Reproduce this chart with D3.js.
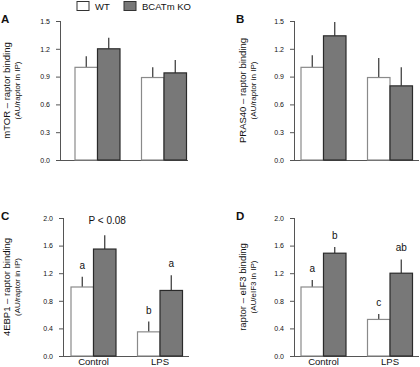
<!DOCTYPE html>
<html>
<head>
<meta charset="utf-8">
<script src="https://cdn.jsdelivr.net/npm/d3@7"></script>
<style>
  body { margin: 0; background: #fff; }
  text { font-family: "Liberation Sans", Arial, sans-serif; fill: #111; }
</style>
</head>
<body>
<div id="chart"></div>
<script>
// groups and series
var groups = ["Control", "LPS"];
var series = ["WT", "BCATm KO"];

// panel A: mTOR - raptor
var mtorMean = [[1.00, 1.20], [0.89, 0.94]];
var mtorErr  = [[0.12, 0.12], [0.11, 0.14]];
// panel B: PRAS40 - raptor
var prasMean = [[1.00, 1.34], [0.89, 0.80]];
var prasErr  = [[0.13, 0.15], [0.21, 0.20]];
// panel C: 4EBP1 - raptor
var ebpMean = [[1.00, 1.55], [0.35, 0.95]];
var ebpErr  = [[0.15, 0.20], [0.15, 0.22]];
var ebpLetters = [["a", "P < 0.08"], ["b", "a"]];
// panel D: raptor - eIF3
var eifMean = [[1.00, 1.49], [0.53, 1.20]];
var eifErr  = [[0.10, 0.09], [0.08, 0.20]];
var eifLetters = [["a", "b"], ["c", "ab"]];

var ticks15 = [0, 0.3, 0.6, 0.9, 1.2, 1.5];
var ticks20 = [0, 0.4, 0.8, 1.2, 1.6, 2.0];

var svg = d3.select("#chart").append("svg")
  .attr("width", 420).attr("height", 367);

var fills = ["#ffffff", "#787878"];
var strokes = ["#8a8a8a", "#2a2a2a"];

// legend
var legend = svg.append("g");
[{x: 77, label: series[0]}, {x: 124, label: series[1]}].forEach(function(d, i) {
  legend.append("rect").attr("x", d.x).attr("y", 1.5).attr("width", 12).attr("height", 9)
    .attr("fill", fills[i]).attr("stroke", "#333").attr("stroke-width", 1);
  legend.append("text").attr("x", d.x + 18).attr("y", 10).attr("font-size", 9.5).text(d.label);
});

function drawPanel(p) {
  var g = svg.append("g");

  var y = d3.scaleLinear().domain([0, p.max]).range([p.bottom, p.top]);

  var step = 66.5, band = 45;
  var x0 = d3.scaleBand().domain(groups)
    .range([p.firstBar - (step - band) / 2, p.firstBar - (step - band) / 2 + 2 * step])
    .paddingInner((step - band) / step).paddingOuter((step - band) / step / 2);
  var x1 = d3.scaleBand().domain(series).range([0, x0.bandwidth()]);

  // x baseline
  g.append("line").attr("x1", p.axisX - 3).attr("x2", p.axisEnd)
    .attr("y1", p.bottom + 0.5).attr("y2", p.bottom + 0.5)
    .attr("stroke", "#555").attr("stroke-width", 1);

  // y axis
  var ax = g.append("g").attr("transform", "translate(" + p.axisX + ",0)")
    .call(d3.axisLeft(y).tickValues(p.ticks).tickFormat(d3.format(".1f")).tickSize(4).tickPadding(6));
  ax.select(".domain").attr("stroke", "#555").attr("d", "M0.5," + p.top + "V" + p.bottom);
  ax.selectAll(".tick line").attr("stroke", "#555");
  ax.selectAll(".tick text").attr("font-size", 7).attr("fill", "#444")
    .attr("font-family", "Liberation Sans, Arial, sans-serif");

  var cells = [];
  groups.forEach(function(gr, gi) {
    series.forEach(function(s, si) {
      cells.push({g: gr, s: s, si: si, v: p.mean[gi][si], e: p.err[gi][si],
                  lab: p.letters ? p.letters[gi][si] : null});
    });
  });

  // error bars (upper only)
  g.selectAll(".err").data(cells).enter().append("line")
    .attr("x1", function(d) { return x0(d.g) + x1(d.s) + x1.bandwidth() / 2; })
    .attr("x2", function(d) { return x0(d.g) + x1(d.s) + x1.bandwidth() / 2; })
    .attr("y1", function(d) { return y(d.v); })
    .attr("y2", function(d) { return y(d.v + d.e); })
    .attr("stroke", "#333").attr("stroke-width", 1.2);

  g.selectAll(".bar").data(cells).enter().append("rect")
    .attr("x", function(d) { return x0(d.g) + x1(d.s); })
    .attr("y", function(d) { return y(d.v); })
    .attr("width", x1.bandwidth())
    .attr("height", function(d) { return p.bottom - y(d.v); })
    .attr("fill", function(d) { return fills[d.si]; })
    .attr("stroke", function(d) { return strokes[d.si]; })
    .attr("stroke-width", 1.2);

  if (p.letters) {
    g.selectAll(".lab").data(cells).enter().append("text")
      .attr("x", function(d) { return x0(d.g) + x1(d.s) + x1.bandwidth() / 2 + (d.lab.length > 2 ? 2.5 : 0); })
      .attr("y", function(d) { return y(d.v + d.e) - (d.lab.length > 2 ? 11 : 8); })
      .attr("text-anchor", "middle").attr("font-size", 10)
      .text(function(d) { return d.lab; });
  }

  if (p.showCats) {
    g.selectAll(".cat").data(groups).enter().append("text")
      .attr("x", function(d) { return x0(d) + x0.bandwidth() / 2; })
      .attr("y", 364.5)
      .attr("text-anchor", "middle").attr("font-size", 9.5)
      .text(function(d) { return d; });
  }

  // panel letter
  g.append("text").attr("x", p.letterX).attr("y", p.top + 2)
    .attr("font-size", 11.5).attr("font-weight", "bold").text(p.letter);

  // y labels
  var cy = (p.top + p.bottom) / 2;
  g.append("text").attr("transform", "translate(" + p.labX + "," + cy + ") rotate(-90)")
    .attr("text-anchor", "middle").attr("font-size", 9.5).text(p.title);
  g.append("text").attr("transform", "translate(" + (p.labX + 10) + "," + cy + ") rotate(-90)")
    .attr("text-anchor", "middle").attr("font-size", 8).text(p.sub);
}

drawPanel({letter: "A", letterX: 1, title: "mTOR \u2013 raptor binding", sub: "(AU/raptor in IP)",
  labX: 10, axisX: 60, axisEnd: 188, firstBar: 75, top: 21, bottom: 160, max: 1.5, ticks: ticks15,
  mean: mtorMean, err: mtorErr});
drawPanel({letter: "B", letterX: 236, title: "PRAS40 \u2013 raptor binding", sub: "(AU/raptor in IP)",
  labX: 246, axisX: 294, axisEnd: 419, firstBar: 301, top: 21, bottom: 160, max: 1.5, ticks: ticks15,
  mean: prasMean, err: prasErr});
drawPanel({letter: "C", letterX: 1, title: "4EBP1 \u2013 raptor binding", sub: "(AU/raptor in IP)",
  labX: 10, axisX: 63, axisEnd: 189, firstBar: 71, top: 218, bottom: 356, max: 2.0, ticks: ticks20,
  mean: ebpMean, err: ebpErr, letters: ebpLetters, showCats: true});
drawPanel({letter: "D", letterX: 236, title: "raptor \u2013 eIF3 binding", sub: "(AU/eIF3 in IP)",
  labX: 246, axisX: 294, axisEnd: 419, firstBar: 301, top: 218, bottom: 356, max: 2.0, ticks: ticks20,
  mean: eifMean, err: eifErr, letters: eifLetters, showCats: true});
</script>
</body>
</html>
